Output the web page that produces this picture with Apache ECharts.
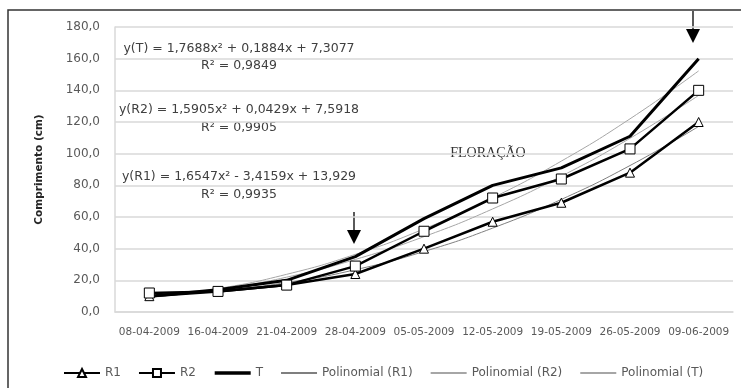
<!DOCTYPE html>
<html><head><meta charset="utf-8">
<script src="https://cdn.jsdelivr.net/npm/echarts@6/dist/echarts.min.js"></script>
<style>html,body{margin:0;padding:0;background:#fff}#c{width:741px;height:388px}</style>
</head><body><div id="c"></div>
<script>
const categories = ['08-04-2009','16-04-2009','21-04-2009','28-04-2009','05-05-2009','12-05-2009','19-05-2009','26-05-2009','09-06-2009'];
const r1 = [10, 13, 17, 24, 40, 57, 69, 88, 120];
const r2 = [12, 13, 17, 29, 51, 72, 84, 103, 140];
const t  = [10, 14, 20, 35, 59, 80, 91, 111, 160];
const polyR1 = [12.2, 13.7, 18.6, 26.7, 38.2, 53.0, 71.1, 92.5, 117.2];
const polyR2 = [9.2, 14.0, 22.0, 33.2, 47.6, 65.1, 85.8, 109.7, 136.8];
const polyT  = [9.3, 14.8, 23.8, 36.4, 52.5, 72.1, 95.3, 122.0, 152.3];
const yTicks = {min: 0, max: 180, interval: 20};

const chart = echarts.init(document.getElementById('c'));
const font = 'DejaVu Sans, Verdana, sans-serif';
const txt = (x, y, s) => ({type:'text', x, y, style:{text:s, fill:'#404040', font:'12.5px ' + font, textAlign:'center', textVerticalAlign:'middle'}});
const arrow = (x, y1, y2) => ([
  {type:'line', shape:{x1:x, y1:y1, x2:x, y2:y2-12}, style:{stroke:'#000', lineWidth:1.3}},
  {type:'polygon', shape:{points:[[x-7,y2-14],[x+7,y2-14],[x,y2]]}, style:{fill:'#000'}}
]);
const hideSym = {color:'transparent', borderColor:'transparent', opacity:0};
chart.setOption({
  animation:false,
  grid:{left:115, right:8, top:27, bottom:76},
  xAxis:{type:'category', data:categories, boundaryGap:true,
    axisLine:{lineStyle:{color:'#d9d9d9', width:1.5}}, axisTick:{show:false},
    axisLabel:{color:'#595959', fontSize:10.5, fontFamily:font, margin:15, interval:0}},
  yAxis:{type:'value', min:yTicks.min, max:yTicks.max, interval:yTicks.interval,
    name:'Comprimento (cm)', nameLocation:'middle', nameGap:70,
    nameTextStyle:{color:'#262626', fontSize:10.5, fontWeight:'bold', fontFamily:font},
    axisLine:{show:true, lineStyle:{color:'#d9d9d9', width:1.5}}, axisTick:{show:false},
    splitLine:{lineStyle:{color:'#d9d9d9', width:1.5}},
    axisLabel:{color:'#595959', fontSize:12, fontFamily:font, margin:15,
      formatter:v=>v.toFixed(1).replace('.',',')}},
  legend:{bottom:4, left:58, itemWidth:36, itemHeight:10, itemGap:17,
    textStyle:{color:'#595959', fontSize:12, fontFamily:font},
    data:['R1','R2',{name:'T', itemStyle:hideSym, lineStyle:{width:3.5}},{name:'Polinomial (R1)', itemStyle:hideSym},{name:'Polinomial (R2)', itemStyle:hideSym},{name:'Polinomial (T)', itemStyle:hideSym}]},
  series:[
    {name:'Polinomial (R1)', type:'line', data:polyR1, smooth:true, symbol:'none', lineStyle:{color:'#7f7f7f', width:1}, itemStyle:{color:'#7f7f7f'}, z:1},
    {name:'Polinomial (R2)', type:'line', data:polyR2, smooth:true, symbol:'none', lineStyle:{color:'#a6a6a6', width:1}, itemStyle:{color:'#a6a6a6'}, z:1},
    {name:'Polinomial (T)', type:'line', data:polyT, smooth:true, symbol:'none', lineStyle:{color:'#a6a6a6', width:1}, itemStyle:{color:'#a6a6a6'}, z:1},
    {name:'T', type:'line', data:t, symbol:'none', lineStyle:{color:'#000', width:3}, itemStyle:{color:'#000'}, z:2},
    {name:'R1', type:'line', data:r1, symbol:'triangle', symbolSize:9, showAllSymbol:true,
      lineStyle:{color:'#000', width:2.5}, itemStyle:{color:'#fff', borderColor:'#000', borderWidth:1}, z:3},
    {name:'R2', type:'line', data:r2, symbol:'rect', symbolSize:10, showAllSymbol:true,
      lineStyle:{color:'#000', width:2.5}, itemStyle:{color:'#fff', borderColor:'#000', borderWidth:1}, z:3}
  ],
  graphic:[
    {type:'rect', shape:{x:8, y:10, width:800, height:420}, style:{fill:'none', stroke:'#333', lineWidth:1.5}, z:100},
    txt(239, 49, 'y(T) = 1,7688x² + 0,1884x + 7,3077'),
    txt(239, 66, 'R² = 0,9849'),
    txt(239, 110, 'y(R2) = 1,5905x² + 0,0429x + 7,5918'),
    txt(239, 128, 'R² = 0,9905'),
    txt(239, 177, 'y(R1) = 1,6547x² - 3,4159x + 13,929'),
    txt(239, 195, 'R² = 0,9935'),
    {type:'text', x:488, y:153, style:{text:'FLORAÇÃO', fill:'#333', font:'14px Liberation Serif, DejaVu Serif, serif', textAlign:'center', textVerticalAlign:'middle'}},
    ...arrow(354, 212, 244),
    ...arrow(693, 11, 43)
  ]
});
</script></body></html>
